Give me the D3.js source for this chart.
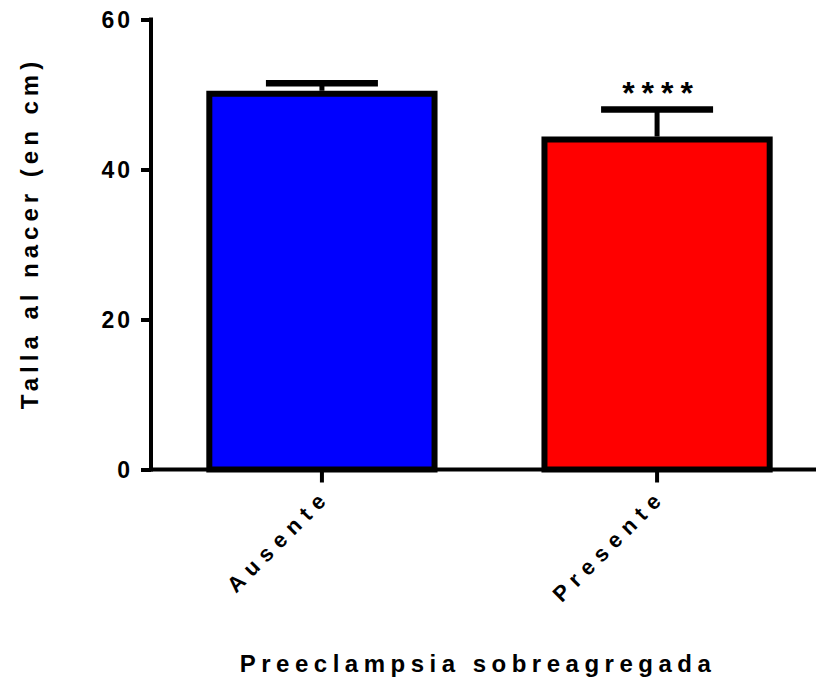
<!DOCTYPE html>
<html lang="en">
<head>
<meta charset="UTF-8">
<title>Talla al nacer</title>
<script src="https://d3js.org/d3.v7.min.js"></script>
<style>
    body { margin: 0; background: #fff; }
    text { font-family: "Liberation Sans", Arial, Helvetica, sans-serif; font-weight: bold; fill: #000; }
</style>
</head>
<body>
<svg width="816" height="679"></svg>
<script>
    const groups = ["Ausente", "Presente"];
    const means = [50.1, 44.0];
    const errors = [1.4, 4.0];
    const barColors = ["#0000ff", "#ff0000"];
    const yTicks = [0, 20, 40, 60];
    const marks = ["", "****"];

    const svg = d3.select("svg");

    const x = d3.scaleBand()
        .domain(groups)
        .range([151, 828])
        .paddingInner(0.328)
        .paddingOuter(0.174);

    const y = d3.scaleLinear()
        .domain([0, 60])
        .range([469.5, 19.5]);

    // y axis
    const yAxis = svg.append("g")
        .attr("transform", "translate(151,0)")
        .call(d3.axisLeft(y).tickValues(yTicks).tickSize(10).tickSizeOuter(0).tickPadding(8));
    yAxis.select(".domain").attr("stroke-width", 4).attr("d", "M0," + (y(60) - 2) + "V" + (y(0) + 2));
    yAxis.selectAll(".tick line").attr("stroke-width", 4);
    yAxis.selectAll(".tick text")
        .style("font-size", "23px")
        .style("letter-spacing", "3px")
        .attr("dy", "0.34em")
        .attr("font-family", null);

    // bars
    const data = groups.map((g, i) => ({ g: g, m: means[i], e: errors[i], c: barColors[i], s: marks[i] }));

    svg.append("g").selectAll("rect")
        .data(data)
        .enter()
        .append("rect")
        .attr("x", d => x(d.g))
        .attr("y", d => y(d.m))
        .attr("width", x.bandwidth())
        .attr("height", d => y(0) - y(d.m))
        .attr("fill", d => d.c)
        .attr("stroke", "#000")
        .attr("stroke-width", 6);

    // x axis
    const xAxis = svg.append("g")
        .attr("transform", "translate(0," + y(0) + ")")
        .call(d3.axisBottom(x).tickSize(13).tickSizeOuter(0));
    xAxis.select(".domain").attr("stroke-width", 4).attr("d", "M149,0H830");
    xAxis.selectAll(".tick line").attr("stroke-width", 4);
    xAxis.selectAll(".tick text").remove();

    // error bars
    const err = svg.append("g").selectAll("g")
        .data(data)
        .enter()
        .append("g");
    err.append("line")
        .attr("x1", d => x(d.g) + x.bandwidth() / 2)
        .attr("x2", d => x(d.g) + x.bandwidth() / 2)
        .attr("y1", d => y(d.m) - 3)
        .attr("y2", d => y(d.m + d.e))
        .attr("stroke", "#000")
        .attr("stroke-width", 5);
    err.append("line")
        .attr("x1", d => x(d.g) + x.bandwidth() / 2 - 56)
        .attr("x2", d => x(d.g) + x.bandwidth() / 2 + 56)
        .attr("y1", d => y(d.m + d.e))
        .attr("y2", d => y(d.m + d.e))
        .attr("stroke", "#000")
        .attr("stroke-width", 6.5);
    err.append("text")
        .attr("x", d => x(d.g) + x.bandwidth() / 2 + 4)
        .attr("y", d => y(d.m + d.e) - 6)
        .attr("text-anchor", "middle")
        .style("font-size", "32px")
        .style("letter-spacing", "7px")
        .text(d => d.s);

    // category labels
    svg.append("g").selectAll("text")
        .data(groups)
        .enter()
        .append("text")
        .attr("transform", d => "translate(" + (x(d) + x.bandwidth() / 2 + 10) + ",498) rotate(-45)")
        .attr("text-anchor", "end")
        .style("font-size", "22px")
        .style("letter-spacing", "7px")
        .text(d => d);

    // axis titles
    svg.append("text")
        .attr("x", 478)
        .attr("y", 672)
        .attr("text-anchor", "middle")
        .style("font-size", "24px")
        .style("letter-spacing", "5.5px")
        .text("Preeclampsia sobreagregada");

    svg.append("text")
        .attr("transform", "translate(38,233) rotate(-90)")
        .attr("text-anchor", "middle")
        .style("font-size", "24px")
        .style("letter-spacing", "5px")
        .text("Talla al nacer (en cm)");
</script>
</body>
</html>
